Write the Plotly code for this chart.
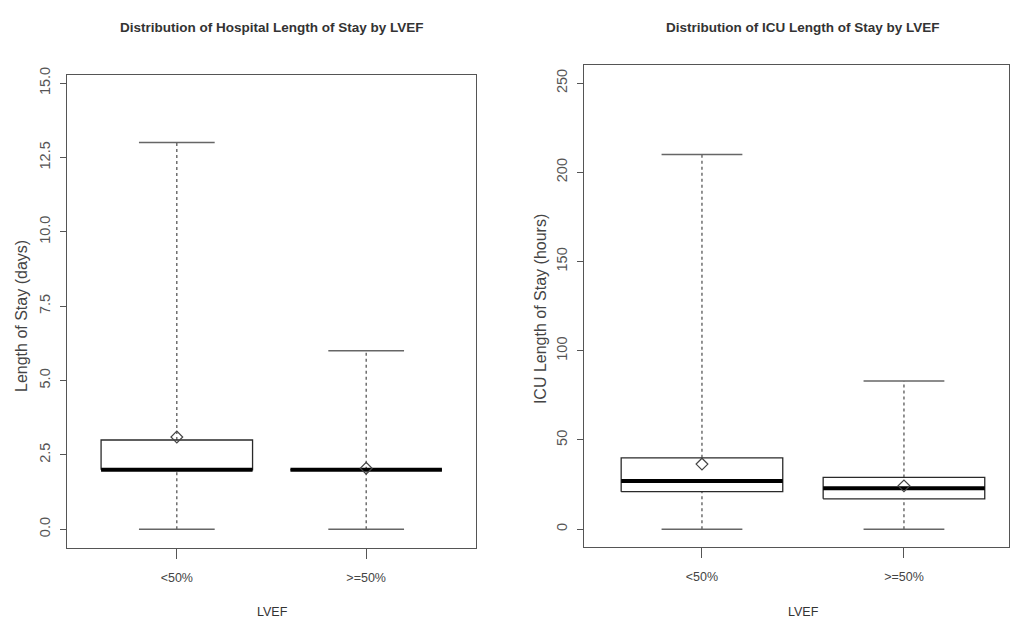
import plotly.graph_objects as go

# ---------------- data ----------------
groups = ["<50%", ">=50%"]

hosp_lower = [0, 0]
hosp_q1 = [2, 2]
hosp_median = [2, 2]
hosp_q3 = [3, 2]
hosp_upper = [13, 6]
hosp_mean = [3.1, 2.05]

icu_lower = [0, 0]
icu_q1 = [21, 17]
icu_median = [27, 23]
icu_q3 = [40, 29]
icu_upper = [210, 83]
icu_mean = [36.5, 24.3]

hosp_ticks = [0, 2.5, 5, 7.5, 10, 12.5, 15]
hosp_ticktext = ["0.0", "2.5", "5.0", "7.5", "10.0", "12.5", "15.0"]
icu_ticks = [0, 50, 100, 150, 200, 250]
icu_ticktext = ["0", "50", "100", "150", "200", "250"]

# ---------------- styling ----------------
W, H = 1010, 621
FONT = "Liberation Sans, Arial, sans-serif"
TXT = "#333333"
AX = "#555555"
BOX_HALF = 0.4
CAP_HALF = 0.2

fig = go.Figure()


def add_boxes(lower, q1, med, q3, upper, mean, xa, ya):
    pos = [i + 1 for i in range(len(groups))]
    # dashed whiskers
    wx, wy = [], []
    for p, lo, a, b, up in zip(pos, lower, q1, q3, upper):
        wx += [p, p, None, p, p, None]
        wy += [b, up, None, lo, a, None]
    fig.add_trace(go.Scatter(x=wx, y=wy, mode="lines", xaxis=xa, yaxis=ya,
                             line=dict(color="#4a4a4a", width=1.2, dash="3px,3px"),
                             hoverinfo="skip", showlegend=False))
    # caps
    cx, cy = [], []
    for p, lo, up in zip(pos, lower, upper):
        cx += [p - CAP_HALF, p + CAP_HALF, None, p - CAP_HALF, p + CAP_HALF, None]
        cy += [up, up, None, lo, lo, None]
    fig.add_trace(go.Scatter(x=cx, y=cy, mode="lines", xaxis=xa, yaxis=ya,
                             line=dict(color="#666666", width=1.5),
                             hoverinfo="skip", showlegend=False))
    # boxes
    for p, a, b in zip(pos, q1, q3):
        fig.add_trace(go.Scatter(
            x=[p - BOX_HALF, p + BOX_HALF, p + BOX_HALF, p - BOX_HALF, p - BOX_HALF],
            y=[a, a, b, b, a], mode="lines", fill="toself", fillcolor="white",
            xaxis=xa, yaxis=ya, line=dict(color="#2a2a2a", width=1.3),
            hoverinfo="skip", showlegend=False))
    # medians
    mx, my = [], []
    for p, m in zip(pos, med):
        mx += [p - BOX_HALF, p + BOX_HALF, None]
        my += [m, m, None]
    fig.add_trace(go.Scatter(x=mx, y=my, mode="lines", xaxis=xa, yaxis=ya,
                             line=dict(color="black", width=4),
                             hoverinfo="skip", showlegend=False))
    # means
    fig.add_trace(go.Scatter(x=pos, y=mean, mode="markers", xaxis=xa, yaxis=ya,
                             marker=dict(symbol="diamond-open", size=9,
                                         color="#444444", line=dict(width=1.2)),
                             hoverinfo="skip", showlegend=False))


add_boxes(hosp_lower, hosp_q1, hosp_median, hosp_q3, hosp_upper, hosp_mean, "x", "y")
add_boxes(icu_lower, icu_q1, icu_median, icu_q3, icu_upper, icu_mean, "x2", "y2")

xcommon = dict(showgrid=False, zeroline=False, showline=True, mirror=True,
               linecolor=AX, linewidth=1.3, ticks="outside", ticklen=10,
               tickcolor=AX, tickwidth=1.2, tickvals=[1, 2], ticktext=groups,
               tickfont=dict(family=FONT, size=12.5, color="#444444"),
               ticklabelstandoff=8)
ycommon = dict(showgrid=False, zeroline=False, showline=True, mirror=True,
               linecolor=AX, linewidth=1.3, ticks="outside", ticklen=6,
               tickcolor=AX, tickwidth=1.2, tickangle=-90,
               tickfont=dict(family=FONT, size=14.5, color="#555555"),
               ticklabelstandoff=4)

fig.update_layout(
    width=W, height=H,
    margin=dict(l=0, r=0, t=0, b=0),
    paper_bgcolor="white", plot_bgcolor="white",
    showlegend=False,
    xaxis=dict(domain=[67 / W, 476 / W], range=[0.42, 2.58], anchor="y", **xcommon),
    yaxis=dict(domain=[(H - 547) / H, (H - 68) / H], range=[-0.63, 15.27],
               anchor="x", tickvals=hosp_ticks, ticktext=hosp_ticktext, **ycommon),
    xaxis2=dict(domain=[584 / W, 1009 / W], range=[0.416, 2.52], anchor="y2", **xcommon),
    yaxis2=dict(domain=[(H - 546) / H, (H - 58) / H], range=[-9.96, 260],
                anchor="x2", tickvals=icu_ticks, ticktext=icu_ticktext, **ycommon),
)

annots = [
    dict(text="<b>Distribution of Hospital Length of Stay by LVEF</b>", x=272, y=20, size=13.5),
    dict(text="<b>Distribution of ICU Length of Stay by LVEF</b>", x=803, y=20, size=13.5),
    dict(text="LVEF", x=272, y=612, size=12.5),
    dict(text="LVEF", x=803, y=612, size=12.5),
]
for a in annots:
    fig.add_annotation(text=a["text"], x=a["x"] / W, y=1 - a["y"] / H,
                       xref="paper", yref="paper", showarrow=False,
                       xanchor="center", yanchor="middle",
                       font=dict(family=FONT, size=a["size"], color=TXT))

fig.add_annotation(text="Length of Stay (days)", x=22 / W, y=1 - 312 / H,
                   xref="paper", yref="paper", showarrow=False, textangle=-90,
                   xanchor="center", yanchor="middle",
                   font=dict(family=FONT, size=16, color="#444444"))
fig.add_annotation(text="ICU Length of Stay (hours)", x=540 / W, y=1 - 305 / H,
                   xref="paper", yref="paper", showarrow=False, textangle=-90,
                   xanchor="center", yanchor="middle",
                   font=dict(family=FONT, size=16, color="#444444"))

fig.write_html("out.html", config={"displayModeBar": False},
               post_script="document.body.style.margin='0';document.body.style.overflow='hidden';")
